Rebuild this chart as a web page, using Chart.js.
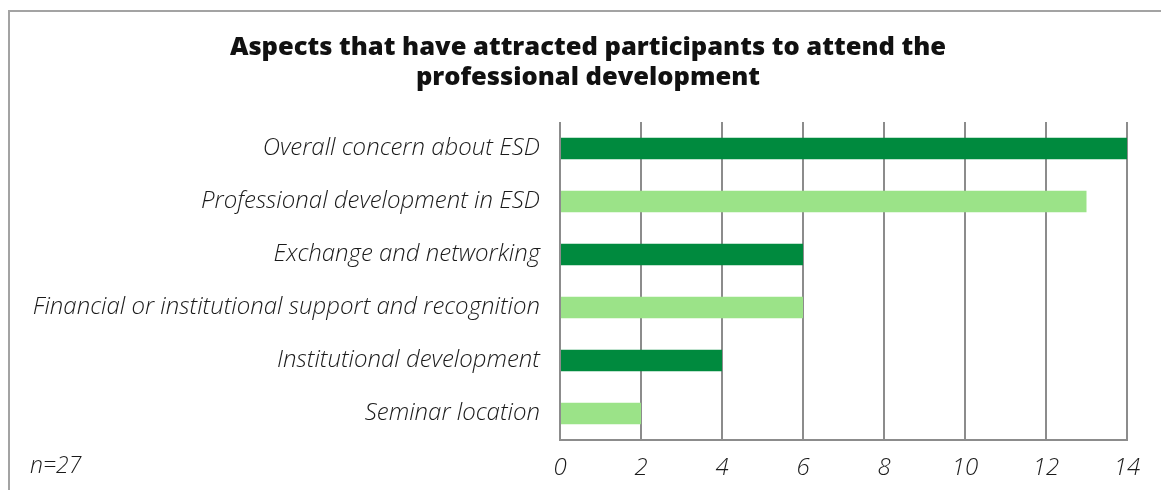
<!DOCTYPE html>
<html lang="en">
<head>
  <meta charset="UTF-8" />
  <title>Aspects that have attracted participants</title>
  <script src="https://cdn.jsdelivr.net/npm/chart.js"></script>
  <style>
    html, body { margin: 0; padding: 0; background: #fff; overflow: hidden; }
    .frame {
      position: absolute; left: 8px; top: 10px; right: -20px; bottom: -20px;
      border: 2px solid #a3a3a3;
    }
    .wrap { position: absolute; left: 0; top: 0; width: 1161px; height: 490px; }
    .title {
      position: absolute; left: 88px; width: 1000px; top: 30px;
      text-align: center; color: #111;
      font: 800 25.5px/30px "Open Sans", Lato, sans-serif;
    }
    .note {
      position: absolute; left: 30px; top: 448px;
      font: italic 300 23px "Open Sans", Lato, sans-serif; color: #1a1a1a;
    }
  </style>
</head>
<body>
<div class="frame"></div>
<div class="wrap">
  <canvas id="aspectChart" width="1161" height="490"></canvas>
</div>
<div class="title" id="chartTitle"></div>
<div class="note">n=27</div>

<script>
  const categories = [
    'Overall concern about ESD',
    'Professional development in ESD',
    'Exchange and networking',
    'Financial or institutional support and recognition',
    'Institutional development',
    'Seminar location'
  ];
  const counts = [14, 13, 6, 6, 4, 2];
  const xTicks = [0, 2, 4, 6, 8, 10, 12, 14];
  const titleLines = [
    'Aspects that have attracted participants to attend the',
    'professional development'
  ];

  document.getElementById('chartTitle').innerHTML = titleLines.join('<br>');

  // alternating dark / light green like the original
  const barColors = counts.map((_, i) => i % 2 === 0 ? '#008a3e' : '#9be388');
  const labelFont = { family: '"Open Sans", Lato, sans-serif', size: 24, style: 'italic', weight: 300 };

  new Chart(document.getElementById('aspectChart'), {
    type: 'bar',
    data: {
      labels: categories,
      datasets: [{
        data: counts,
        backgroundColor: barColors,
        borderWidth: 0,
        categoryPercentage: 1,
        barPercentage: 0.41
      }]
    },
    options: {
      indexAxis: 'y',
      responsive: false,
      animation: false,
      layout: { padding: { left: 0, right: 34, top: 122, bottom: 0 } },
      plugins: {
        legend: { display: false },
        tooltip: { enabled: false },
        title: { display: false }
      },
      scales: {
        x: {
          min: 0,
          max: 14,
          afterBuildTicks: s => { s.ticks = xTicks.map(v => ({ value: v })); },
          afterFit: s => { s.height = 50; },
          grid: { color: '#8c8c8c', lineWidth: 2, drawTicks: false },
          border: { display: true, color: '#8c8c8c', width: 2 },
          ticks: { color: '#1a1a1a', font: labelFont, padding: 14 }
        },
        y: {
          afterFit: s => { s.width = 560; },
          grid: { display: false },
          border: { display: false },
          ticks: { color: '#1a1a1a', font: labelFont, padding: 12 }
        }
      }
    }
  });
</script>
</body>
</html>
